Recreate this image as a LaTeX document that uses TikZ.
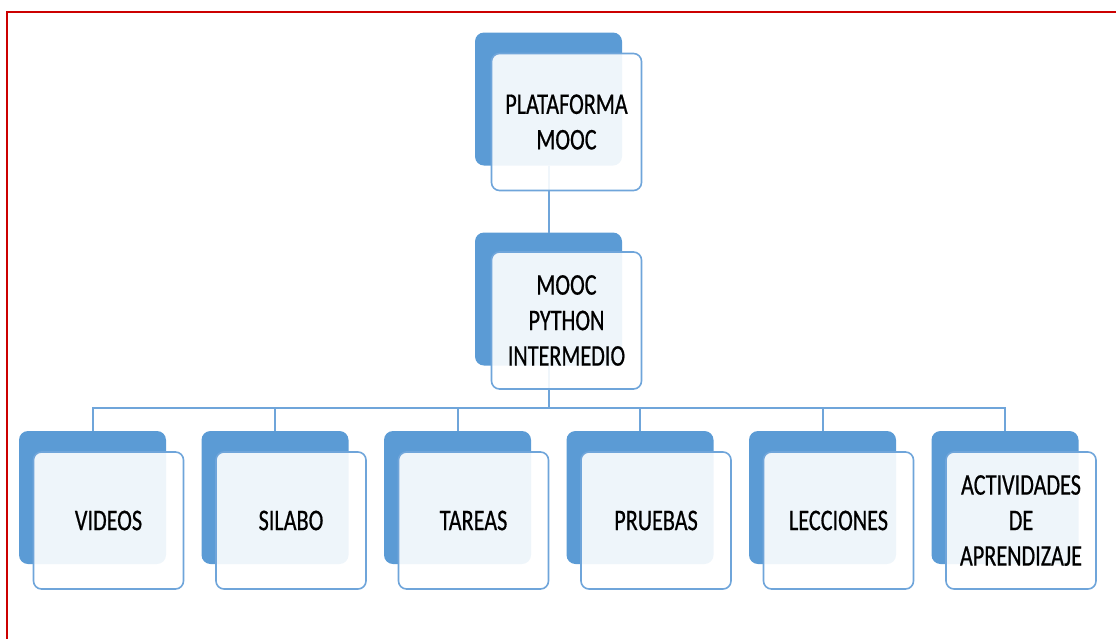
\documentclass[tikz,border=0pt]{standalone}
\usepackage{fontspec}
\setmainfont{Carlito}[FakeStretch=0.74,FakeBold=0.6]
\definecolor{accent}{HTML}{5B9BD5}
\definecolor{linec}{HTML}{6FA5DA}
\definecolor{framered}{HTML}{CC0000}
\begin{document}
\begin{tikzpicture}[x=1pt,y=-1pt,
  backbox/.style={draw=none,fill=accent,rounded corners=9pt,minimum width=147pt,minimum height=133pt,inner sep=0pt,outer sep=0pt},
  frontbox/.style={draw=linec,line width=1.6pt,fill=white,fill opacity=0.9,text opacity=1,rounded corners=8pt,minimum width=150pt,minimum height=137pt,inner sep=0pt,outer sep=0pt,align=center,font=\fontsize{30}{35.5}\selectfont,text=black},
  conn/.style={draw=linec,line width=2pt}]
\useasboundingbox (0,0) rectangle (1116,638);
\draw[framered,line width=2.8pt] (7,700) -- (7,12) -- (1200,12);
% back boxes
\node[backbox] (topback) at (548.5,99) {};
\node[backbox] (midback) at (548.5,299) {};
\node[backbox] (b1) at (92.5,497.5) {};
\node[backbox] (b2) at (275,497.5) {};
\node[backbox] (b3) at (457.5,497.5) {};
\node[backbox] (b4) at (640,497.5) {};
\node[backbox] (b5) at (822.5,497.5) {};
\node[backbox] (b6) at (1005,497.5) {};
\coordinate (bus) at (0,408);
% connectors
\draw[conn] (topback.south) -- (midback.north);
\foreach \c in {b1,b2,b3,b4,b5,b6}{
  \draw[conn] (midback.south) -- (midback.south |- bus) -| (\c.north);
}
% front boxes
\node[frontbox] (top) at (566.5,122) {PLATAFORMA\\MOOC};
\node[frontbox] (mid) at (566.5,320.5) {MOOC\\PYTHON\\INTERMEDIO};
\node[frontbox] (f1) at (108.5,520.5) {VIDEOS};
\node[frontbox] (f2) at (291,520.5) {SILABO};
\node[frontbox] (f3) at (473.5,520.5) {TAREAS};
\node[frontbox] (f4) at (656,520.5) {PRUEBAS};
\node[frontbox] (f5) at (838.5,520.5) {LECCIONES};
\node[frontbox] (f6) at (1021,520.5) {ACTIVIDADES\\DE\\APRENDIZAJE};
\end{tikzpicture}
\end{document}
